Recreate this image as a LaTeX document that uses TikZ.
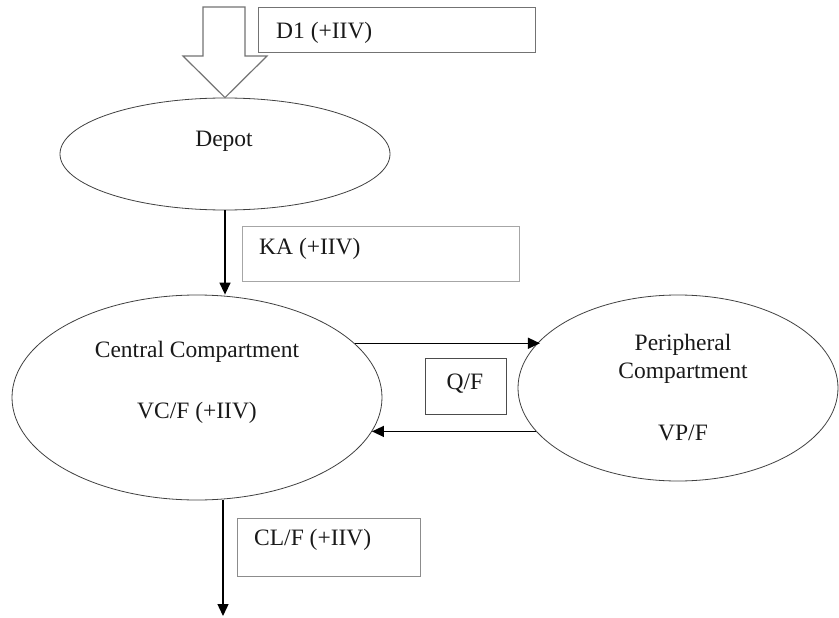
\documentclass[tikz,border=0pt]{standalone}
\usepackage{fontspec}
\setmainfont{Liberation Serif}
\usetikzlibrary{shapes.geometric,arrows.meta}
\begin{document}
\begin{tikzpicture}[x=1pt,y=-1pt,
  comp/.style={draw=black!75, ellipse, line width=0.8pt, inner sep=0pt},
  lbl/.style={font=\fontsize{23.5}{28}\selectfont, inner sep=0pt, text=black!90},
  gbox/.style={draw=#1, line width=1.4pt, inner sep=0pt, anchor=north west},
  arr/.style={line width=1.4pt, -{Triangle[length=12pt,width=11pt]}}
]
\useasboundingbox (0,0) rectangle (839,618);

% compartments
\node[comp, minimum width=330, minimum height=112] (depot) at (225,154) {};
\node[comp, minimum width=370, minimum height=205] (central) at (197,397.5) {};
\node[comp, minimum width=320, minimum height=186] (periph) at (678,388) {};

\node[lbl] (tdepot) at (224,141) {Depot};
\node[lbl] (tcentral) at (197,352) {Central Compartment};
\node[lbl] (tvc) at (197,413) {VC/F (+IIV)};
\node[lbl, align=center] (tperiph) at (683,359) {Peripheral\\Compartment};
\node[lbl] (tvp) at (683,433) {VP/F};

% parameter boxes
\node[gbox=black!55, minimum width=277, minimum height=45] (bd1) at (258,7) {};
\node[lbl, anchor=west] (td1) at (276,33) {D1 (+IIV)};
\node[gbox=black!35, minimum width=277, minimum height=55] (bka) at (242,226) {};
\node[lbl, anchor=west] (tka) at (259,249) {KA (+IIV)};
\node[gbox=black!45, minimum width=183, minimum height=58] (bcl) at (237,518) {};
\node[lbl, anchor=west] (tcl) at (254,540) {CL/F (+IIV)};
\node[draw=black!70, line width=0.9pt, anchor=north west, inner sep=0pt,
      minimum width=81, minimum height=56] (bq) at (425,358) {};
\node[lbl] (tq) at (465,384) {Q/F};

% dosing block arrow
\draw[draw=black!55, line width=1.2pt, fill=white, line join=miter]
  (203,7) -- (245,7) -- (245,56) -- (267,56) -- (depot.north) -- (183,56) -- (203,56) -- cycle;

% connectors
\draw[arr] (depot.south) -- (depot.south |- central.north);
\draw[arr] (central.19.6) -- (central.19.6 -| periph.161.7);
\draw[arr] (periph.197.8) -- (periph.197.8 -| central.-11.6);
\coordinate (elim) at (223,616);
\draw[arr] (central.south -| elim) -- (elim);
\end{tikzpicture}
\end{document}
